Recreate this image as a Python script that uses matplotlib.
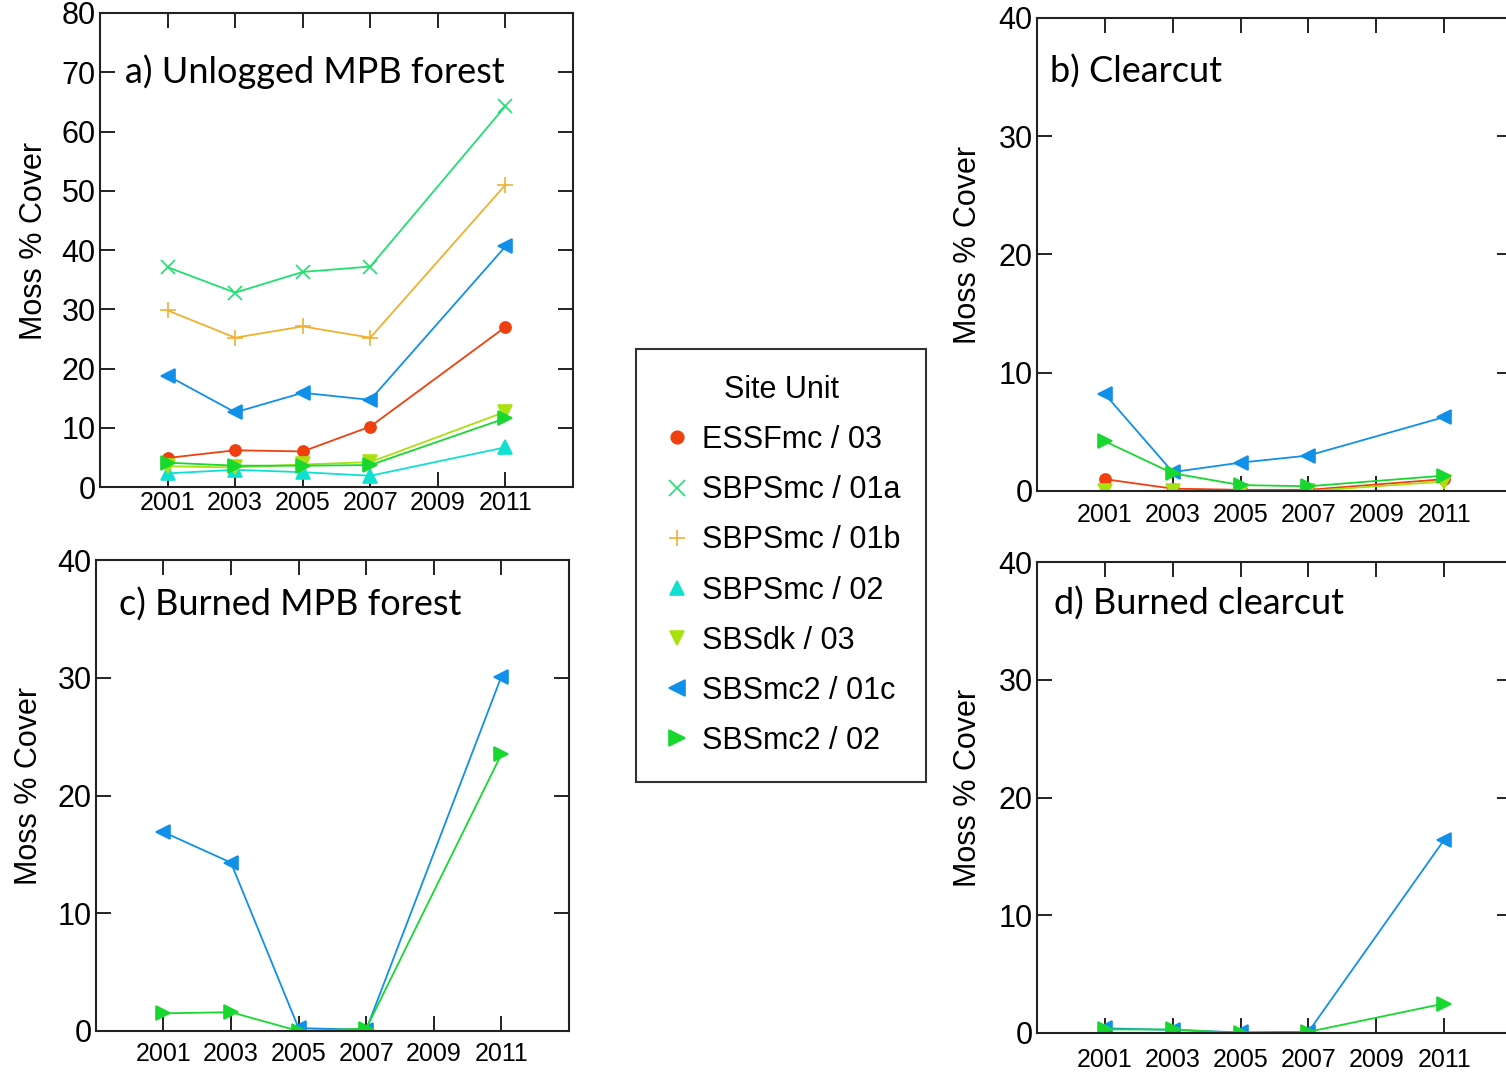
import matplotlib
matplotlib.use('Agg')
import matplotlib.pyplot as plt
import numpy as np
from matplotlib.lines import Line2D

plt.rcParams['font.family'] = ['Liberation Sans', 'DejaVu Sans']

years = [2001, 2003, 2005, 2007, 2011]

# site units (legend order)
site_units = ['ESSFmc / 03', 'SBPSmc / 01a', 'SBPSmc / 01b', 'SBPSmc / 02',
              'SBSdk / 03', 'SBSmc2 / 01c', 'SBSmc2 / 02']
unit_colors = ['#f0400f', '#1fe070', '#f0b030', '#10e0d0',
               '#a8e010', '#1090e8', '#18d830']
unit_markers = ['o', 'x', '+', '^', 'v', '<', '>']

# a) Unlogged MPB forest
a_essf03 = [4.9, 6.2, 6.0, 10.2, 27.0]
a_sbps01a = [37.1, 32.8, 36.3, 37.2, 64.3]
a_sbps01b = [29.8, 25.2, 27.1, 25.2, 51.0]
a_sbps02 = [2.3, 2.9, 2.5, 1.9, 6.7]
a_sbsdk03 = [3.5, 3.3, 3.8, 4.2, 12.7]
a_sbsmc01c = [18.8, 12.6, 15.9, 14.7, 40.6]
a_sbsmc02 = [4.1, 3.6, 3.6, 3.7, 11.6]

# b) Clearcut
b_essf03 = [1.0, 0.2, 0.1, 0.1, 1.0]
b_sbsdk03 = [0.0, 0.0, 0.0, 0.0, 0.8]
b_sbsmc01c = [8.2, 1.6, 2.4, 3.0, 6.25]
b_sbsmc02 = [4.2, 1.5, 0.5, 0.4, 1.3]

# c) Burned MPB forest
c_sbsmc01c = [16.9, 14.3, 0.25, 0.1, 30.1]
c_sbsmc02 = [1.5, 1.6, 0.0, 0.2, 23.5]

# d) Burned clearcut
d_sbsmc01c = [0.4, 0.26, 0.05, 0.1, 16.4]
d_sbsmc02 = [0.3, 0.3, 0.0, 0.1, 2.5]

panels = [
    ('a) Unlogged MPB forest', 80,
     [a_essf03, a_sbps01a, a_sbps01b, a_sbps02, a_sbsdk03, a_sbsmc01c, a_sbsmc02],
     [0, 1, 2, 3, 4, 5, 6]),
    ('b) Clearcut', 40, [b_essf03, b_sbsdk03, b_sbsmc01c, b_sbsmc02], [0, 4, 5, 6]),
    ('c) Burned MPB forest', 40, [c_sbsmc01c, c_sbsmc02], [5, 6]),
    ('d) Burned clearcut', 40, [d_sbsmc01c, d_sbsmc02], [5, 6]),
]

W, H = 1506, 1072
fig = plt.figure(figsize=(W / 100, H / 100), dpi=100)

# pixel boxes: left, top, right, bottom
boxes = [(100, 13, 573, 487), (1037, 18, 1512, 491),
         (95.7, 560, 569, 1031), (1037, 562, 1512, 1033)]
title_pos = [(0.053, 0.852), (0.027, 0.863), (0.049, 0.883), (0.036, 0.888)]
xpads = [3, 9, 8, 11]
ylab_x = [-0.108, -0.114, -0.11, -0.114]

ms = {'o': 8, 'x': 10, '+': 11, '^': 9.5, 'v': 9.5, '<': 10, '>': 10}

for (title, ymax, series, idx), (l, t, r, b), tp, xp, lx in zip(
        panels, boxes, title_pos, xpads, ylab_x):
    ax = fig.add_axes([l / W, 1 - b / H, (r - l) / W, (b - t) / H])
    for vals, k in zip(series, idx):
        ax.plot(years, vals, color=unit_colors[k], marker=unit_markers[k],
                markersize=ms[unit_markers[k]], markeredgewidth=1.2, linewidth=1.3)
    ax.set_xlim(1999, 2013)
    ax.set_ylim(0, ymax)
    ax.set_xticks([2001, 2003, 2005, 2007, 2009, 2011])
    ax.set_yticks(np.arange(0, ymax + 1, 10))
    ax.tick_params(direction='in', length=11, width=1.4, top=True, right=True,
                   color='#222222')
    ax.tick_params(axis='x', labelsize=18, pad=xp)
    ax.tick_params(axis='y', labelsize=22, pad=3)
    for s in ax.spines.values():
        s.set_linewidth(1.5)
        s.set_color('#222222')
    ax.set_ylabel('Moss % Cover', fontsize=22)
    ax.yaxis.set_label_coords(lx, 0.52)
    ax.text(tp[0], tp[1], title, transform=ax.transAxes, fontsize=26,
            family=['Lato', 'DejaVu Sans'], va='baseline', ha='left')

handles = [Line2D([], [], linestyle='none', color=c, marker=m,
                  markersize=ms[m] + 1, markeredgewidth=1.2)
           for c, m in zip(unit_colors, unit_markers)]
leg = fig.legend(handles, site_units, title='Site Unit', loc='upper left',
                 bbox_to_anchor=(636 / W, 1 - 349 / H), borderaxespad=0,
                 fontsize=22, title_fontsize=22, frameon=True, fancybox=False,
                 edgecolor='black', borderpad=0.85, labelspacing=0.66,
                 handlelength=1.0, handletextpad=0.3)
leg.get_frame().set_linewidth(1.5)

fig.savefig('out.png', dpi=100)
